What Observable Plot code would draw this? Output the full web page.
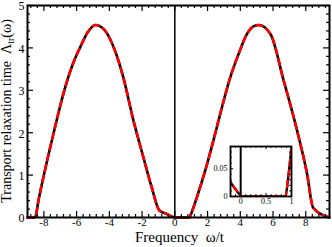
<!DOCTYPE html>
<html><head><meta charset="utf-8">
<script src="https://cdn.jsdelivr.net/npm/d3@7"></script>
<script src="https://cdn.jsdelivr.net/npm/@observablehq/plot@0.6"></script>
<style>
body{margin:0;background:#fff;}
#wrap{position:relative;width:332px;height:247px;}
#inset{position:absolute;left:208px;top:143px;}
</style></head><body><div id="wrap"><div id="main"></div><div id="inset"></div></div>
<script>
// Data
const omega = [-9, -8.55, -8.3, -8.0, -7.4, -6.75, -6.2, -5.8, -5.3, -4.85, -4.27, -3.66, -3.15, -2.53, -1.92, -1.41, -0.94, -0.5, -0.2, -0.1, 0, 0.05, 0.88, 0.93, 0.97, 1.0, 1.35, 1.86, 2.36, 2.88, 3.39, 3.9, 4.41, 4.92, 5.12, 5.84, 6.65, 7.47, 8.08, 8.45, 9.45];
const lambdaTr = [0, 0, 0.46, 1.0, 2.0, 3.0, 3.65, 4.0, 4.38, 4.54, 4.41, 3.94, 3.31, 2.29, 1.42, 0.71, 0.165, 0.085, 0.026, 0.013, 0.002, 0, 0, 0.03, 0.062, 0.09, 0.48, 1.11, 1.82, 2.6, 3.31, 3.86, 4.33, 4.53, 4.54, 4.33, 3.23, 2.05, 1.03, 0.23, 0];

const xTicks = [-8, -6, -4, -2, 0, 2, 4, 6, 8];
const yTicks = [0, 1, 2, 3, 4, 5];
const xMinor = d3.range(-22, 24).filter(i => i % 5 !== 0).map(i => i * 0.4);
const yMinor = d3.range(1, 25).filter(i => i % 5 !== 0).map(i => i * 0.2);
const insetXTicks = [0, 0.5, 1];
const insetYTicks = [0, 0.05];
const insetXMinor = [-0.1, 0.1, 0.2, 0.3, 0.4, 0.6, 0.7, 0.8, 0.9];
const insetYMinor = [0.01, 0.02, 0.03, 0.04, 0.06, 0.07, 0.08];
const xLabel = "Frequency\u00a0\u00a0ω/t";
const yLabelMain = "Transport relaxation time\u00a0\u00a0Λ";
const yLabelSub = "tr";
const yLabelEnd = "(ω)";

const data = omega.map((w, i) => ({w, v: lambdaTr[i]}));
const font = "'Liberation Serif', 'Times New Roman', serif";

// Main chart
const W = 332, H = 247, mL = 27, mR = 3, mT = 5, mB = 30;
const pw = W - mL - mR, ph = H - mT - mB;
const fmt = d => String(d);

const main = Plot.plot({
  width: W, height: H,
  marginLeft: mL, marginRight: mR, marginTop: mT, marginBottom: mB,
  style: {fontFamily: font, background: "white", color: "black"},
  x: {domain: [-9, 9.45]},
  y: {domain: [0, 5]},
  marks: [
    Plot.ruleX([0], {stroke: "black", strokeWidth: 1.5}),
    Plot.line(data, {x: "w", y: "v", stroke: "black", strokeWidth: 2.6, curve: "monotone-x"}),
    Plot.line(data, {x: "w", y: "v", stroke: "#ff0000", strokeWidth: 2.6, strokeDasharray: "6,5", curve: "monotone-x"}),
    Plot.tickX(xTicks, {x: d => d, insetTop: ph - 6, stroke: "black", strokeWidth: 1.2}),
    Plot.tickX(xTicks, {x: d => d, insetBottom: ph - 6, stroke: "black", strokeWidth: 1.2}),
    Plot.tickX(xMinor, {x: d => d, insetTop: ph - 3, stroke: "black", strokeWidth: 1.2}),
    Plot.tickX(xMinor, {x: d => d, insetBottom: ph - 3, stroke: "black", strokeWidth: 1.2}),
    Plot.tickY(yTicks, {y: d => d, insetRight: pw - 6, stroke: "black", strokeWidth: 1.2}),
    Plot.tickY(yTicks, {y: d => d, insetLeft: pw - 6, stroke: "black", strokeWidth: 1.2}),
    Plot.tickY(yMinor, {y: d => d, insetRight: pw - 3, stroke: "black", strokeWidth: 1.2}),
    Plot.tickY(yMinor, {y: d => d, insetLeft: pw - 3, stroke: "black", strokeWidth: 1.2}),
    Plot.frame({stroke: "black", strokeWidth: 2}),
    Plot.axisX(xTicks, {tickSize: 0, tickPadding: 1, fontSize: 11, tickFormat: fmt, label: null}),
    Plot.axisY(yTicks, {tickSize: 0, tickPadding: 3, fontSize: 12, dy: 1, tickFormat: fmt, label: null}),
    Plot.text([xLabel], {text: d => d, frameAnchor: "bottom", dy: 19.5, dx: 1, fontSize: 15, lineAnchor: "middle"})
  ]
});
const ylab = d3.select(main).append("text")
  .attr("transform", `translate(11,${mT + ph / 2}) rotate(-90)`)
  .attr("text-anchor", "middle")
  .attr("font-size", 14)
  .attr("fill", "black");
ylab.append("tspan").text(yLabelMain);
ylab.append("tspan").attr("font-size", 10).attr("dy", 3).text(yLabelSub);
ylab.append("tspan").attr("dy", -3).text(yLabelEnd);
document.getElementById("main").appendChild(main);

// Inset
const iw = 61, ih = 50, iL = 22, iR = 6, iT = 3, iB = 14;
const inset = Plot.plot({
  width: iL + iw + iR, height: iT + ih + iB,
  marginLeft: iL, marginRight: iR, marginTop: iT, marginBottom: iB,
  style: {fontFamily: font, background: "transparent", color: "black"},
  x: {domain: [-0.2, 1]},
  y: {domain: [0, 0.09]},
  marks: [
    Plot.ruleX([0], {stroke: "black", strokeWidth: 2}),
    Plot.line(data, {x: "w", y: "v", stroke: "black", strokeWidth: 2.4, curve: "monotone-x", clip: true}),
    Plot.line(data, {x: "w", y: "v", stroke: "#ff0000", strokeWidth: 2.4, strokeDasharray: "6,5", curve: "monotone-x", clip: true}),
    Plot.tickX(insetXTicks, {x: d => d, insetTop: ih - 3, stroke: "black"}),
    Plot.tickX(insetXTicks, {x: d => d, insetBottom: ih - 3, stroke: "black"}),
    Plot.tickX(insetXMinor, {x: d => d, insetTop: ih - 1.8, stroke: "black"}),
    Plot.tickX(insetXMinor, {x: d => d, insetBottom: ih - 1.8, stroke: "black"}),
    Plot.tickY(insetYTicks, {y: d => d, insetRight: iw - 3, stroke: "black"}),
    Plot.tickY(insetYTicks, {y: d => d, insetLeft: iw - 3, stroke: "black"}),
    Plot.tickY(insetYMinor, {y: d => d, insetRight: iw - 1.8, stroke: "black"}),
    Plot.tickY(insetYMinor, {y: d => d, insetLeft: iw - 1.8, stroke: "black"}),
    Plot.frame({stroke: "black", strokeWidth: 1.8}),
    Plot.axisX(insetXTicks, {tickSize: 0, tickPadding: 2, fontSize: 8, tickFormat: fmt, label: null}),
    Plot.axisY(insetYTicks, {tickSize: 0, tickPadding: 3, fontSize: 8, tickFormat: fmt, label: null})
  ]
});
document.getElementById("inset").appendChild(inset);
</script>
</body></html>
